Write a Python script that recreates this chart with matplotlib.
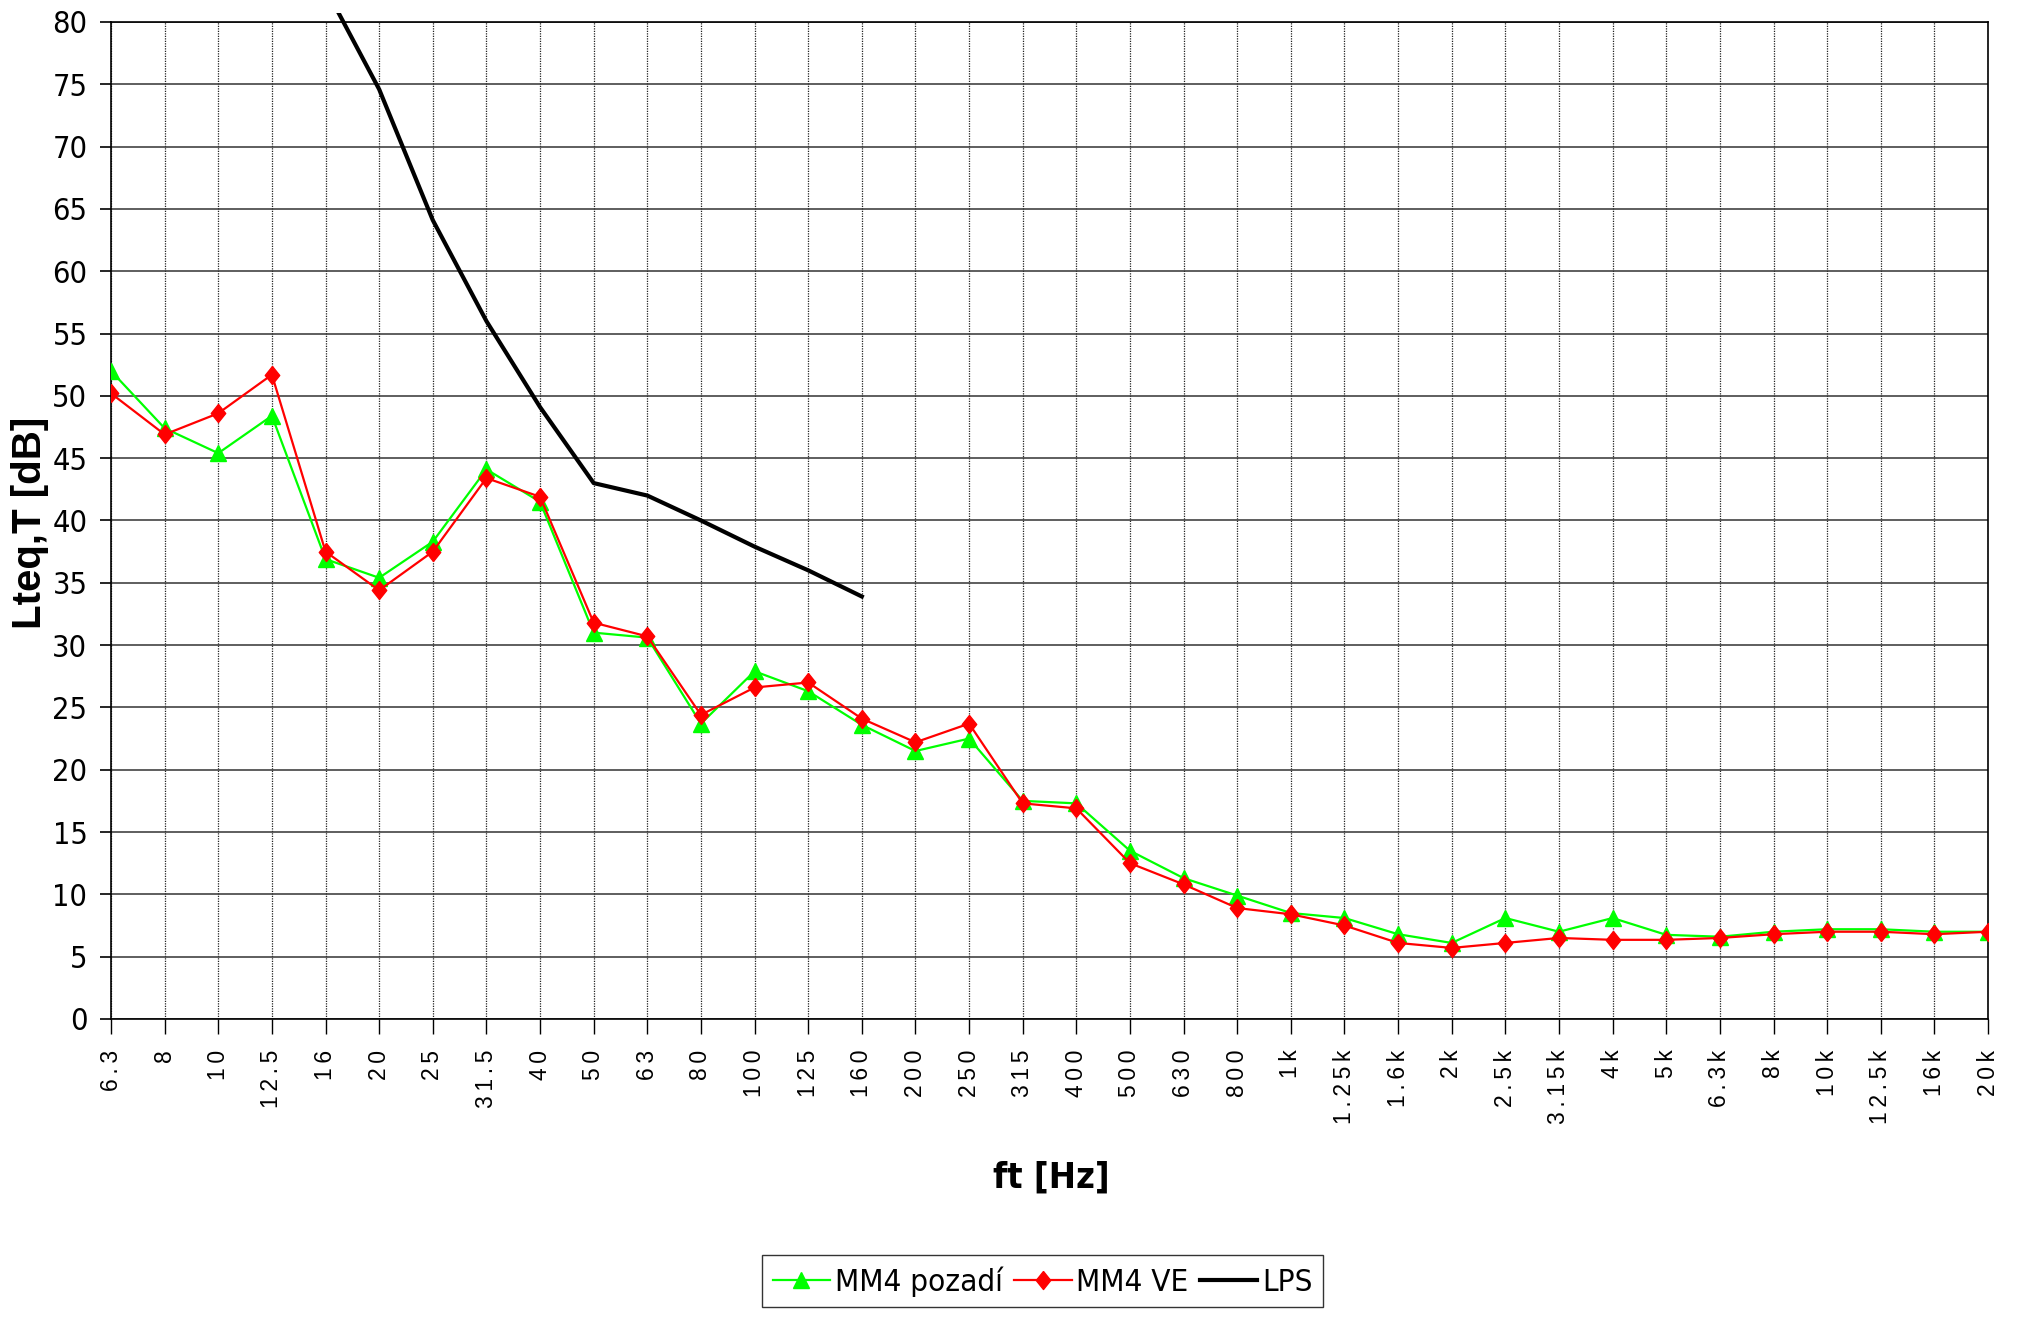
import matplotlib
matplotlib.use("Agg")
import matplotlib.pyplot as plt
from matplotlib import font_manager
from matplotlib.font_manager import FontProperties
from matplotlib.patches import Rectangle
import numpy as np

# third-octave bands
freqs = ["6.3", "8", "10", "12.5", "16", "20", "25", "31.5", "40", "50", "63", "80",
         "100", "125", "160", "200", "250", "315", "400", "500", "630", "800",
         "1k", "1.25k", "1.6k", "2k", "2.5k", "3.15k", "4k", "5k", "6.3k", "8k",
         "10k", "12.5k", "16k", "20k"]

mm4_pozadi = [52.0, 47.4, 45.4, 48.4, 36.9, 35.4, 38.3, 44.1, 41.5, 31.0, 30.6, 23.7,
              27.9, 26.3, 23.6, 21.5, 22.5, 17.5, 17.3, 13.5, 11.3, 9.9,
              8.5, 8.1, 6.8, 6.1, 8.1, 7.0, 8.1, 6.75, 6.6, 7.0,
              7.2, 7.2, 7.0, 7.0]

mm4_ve = [50.2, 46.9, 48.6, 51.7, 37.5, 34.4, 37.5, 43.4, 41.9, 31.8, 30.7, 24.4,
          26.6, 27.0, 24.1, 22.2, 23.7, 17.3, 16.9, 12.5, 10.8, 8.9,
          8.4, 7.5, 6.1, 5.7, 6.1, 6.5, 6.35, 6.35, 6.5, 6.8,
          7.0, 7.0, 6.8, 7.0]

lps_freqs = ["16", "20", "25", "31.5", "40", "50", "63", "80", "100", "125", "160"]
lps = [82.7, 74.6, 64.1, 56.0, 49.1, 43.0, 42.0, 40.0, 37.9, 36.0, 33.9]


def narrow_font(bold=False):
    # look for an installed narrow / condensed sans face, fall back to Liberation Sans
    best = None
    for f in font_manager.fontManager.ttflist:
        name = f.name.lower()
        stretch = str(f.stretch).lower()
        if "mono" in name or "serif" in name or f.style != "normal":
            continue
        if not ("narrow" in name or "condensed" in name or "condensed" in stretch):
            continue
        w = f.weight if isinstance(f.weight, int) else font_manager.weight_dict.get(f.weight, 400)
        if (w >= 600) != bold:
            continue
        score = 0 if "liberation" in name else (1 if "dejavu" in name else 2)
        if "extra" in stretch or "ultra" in stretch:
            score += 3
        if best is None or score < best[0]:
            best = (score, f.fname)
    if best:
        return FontProperties(fname=best[1])
    return FontProperties(family="Liberation Sans", weight="bold" if bold else "normal")


narrow = narrow_font()
narrow_bold = narrow_font(bold=True)
regular = "Liberation Sans"

fig = plt.figure(figsize=(20.22, 13.17), dpi=100)
ax = fig.add_axes([0.0549, 0.2263, 0.9283, 0.757])

x = np.arange(len(freqs))
x_lps = [freqs.index(f) for f in lps_freqs]

diamond = [(0, 1), (0.8, 0), (0, -1), (-0.8, 0), (0, 1)]

ax.plot(x, mm4_pozadi, color="#00FF00", lw=1.6, marker="^", ms=11,
        mfc="#00FF00", mec="#00FF00", label="MM4 pozadí", zorder=3)
ax.plot(x, mm4_ve, color="#FF0000", lw=1.6, marker=diamond, ms=13,
        mfc="#FF0000", mec="#FF0000", label="MM4 VE", zorder=4)
lps_line, = ax.plot(x_lps, lps, color="black", lw=3, label="LPS", zorder=5)
# line runs a little over the top of the plot area, as in the original
lps_line.set_clip_path(Rectangle((0, 0), 1, 1.0088, transform=ax.transAxes))

ax.set_xlim(0, len(freqs) - 1)
ax.set_ylim(0, 80)
ax.set_yticks(np.arange(0, 81, 5))
ax.set_xticks(x)
# Excel spreads the characters of the category labels apart
spaced = ["\u2009".join(f) for f in freqs]
ax.set_xticklabels(spaced, rotation=90, va="top", ha="center",
                   fontsize=16.5, family=regular)
for lab in ax.get_yticklabels():
    lab.set_fontproperties(narrow)
    lab.set_fontsize(22)

ax.grid(axis="y", color="#333333", lw=1.1, zorder=1)
ax.grid(axis="x", color="#222222", lw=0.9, linestyle=(0, (1, 1)), zorder=1)
ax.set_axisbelow(True)

ax.tick_params(axis="y", direction="out", length=8, width=1.2, pad=9, colors="black")
ax.tick_params(axis="x", direction="out", length=11, width=1.0, pad=11, colors="black")
for s in ax.spines.values():
    s.set_color("black")
    s.set_linewidth(1.2)

fig.text(0.0150, 0.603, "Lteq,T [dB]", rotation=90, ha="center", va="center",
         fontsize=29, fontweight="bold", family=regular)
xl = fig.text(0.5198, 0.1056, "ft [Hz]", ha="center", va="center")
xl.set_fontproperties(narrow_bold)
xl.set_fontsize(26)

leg_prop = narrow.copy()
leg_prop.set_size(22.5)
leg = fig.legend(loc="upper center", bbox_to_anchor=(0.5156, 0.0470), ncol=3,
                 frameon=True, fancybox=False, handlelength=1.85, handletextpad=0.15,
                 columnspacing=0.35, borderpad=0.35, borderaxespad=0, prop=leg_prop)
leg.get_frame().set_edgecolor("black")
leg.get_frame().set_linewidth(1.0)

fig.savefig("out.png", dpi=100)
